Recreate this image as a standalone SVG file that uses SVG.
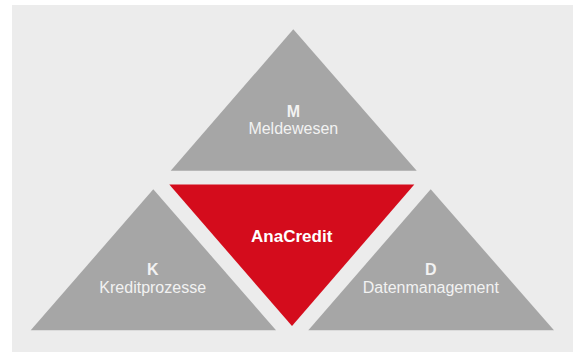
<svg xmlns="http://www.w3.org/2000/svg" width="573" height="352" viewBox="0 0 573 352">
<style>
.tri{fill:#a6a6a6}
.red{fill:#d40c1c}
.t{font-family:"Liberation Sans",Arial,sans-serif;fill:#f2f2f2;text-anchor:middle}
.b{font-weight:bold;font-size:16px}
.n{font-size:16px}
.a{font-weight:bold;font-size:17px;fill:#ffffff}
</style>
<rect x="12" y="5" width="561" height="347" fill="#ececec"/>
<g id="node-m">
<polygon class="tri" points="293.3,29.3 416.7,170.7 170.7,170.7"/>
<text class="t b" x="293.3" y="117">M</text>
<text class="t n" x="293.3" y="134">Meldewesen</text>
</g>
<g id="node-anacredit">
<polygon class="red" points="169.3,184.5 414.3,184.5 292,326"/>
<text class="t a" x="291.7" y="241.5">AnaCredit</text>
</g>
<g id="node-k">
<polygon class="tri" points="153.3,189.3 276,330.3 30.7,330.3"/>
<text class="t b" x="152.7" y="275">K</text>
<text class="t n" x="152.7" y="293">Kreditprozesse</text>
</g>
<g id="node-d">
<polygon class="tri" points="430.7,189.3 554,330.3 308.3,330.3"/>
<text class="t b" x="430.8" y="275">D</text>
<text class="t n" x="430.8" y="293">Datenmanagement</text>
</g>
<g id="connectors"></g>
</svg>
